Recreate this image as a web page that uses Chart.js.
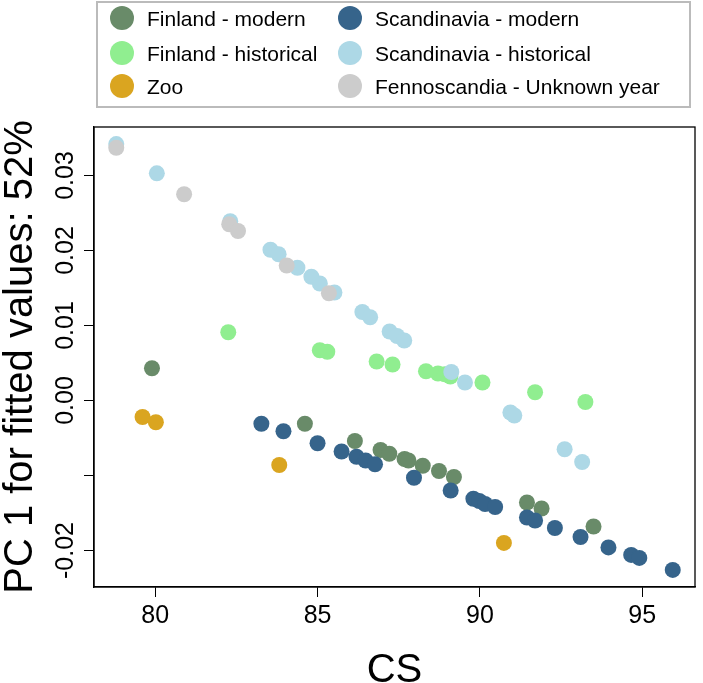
<!DOCTYPE html>
<html>
<head>
<meta charset="utf-8">
<script src="https://cdn.jsdelivr.net/npm/chart.js@4.4.1/dist/chart.umd.min.js"></script>
<style>
  body { margin: 0; background: #fff; }
  canvas { display: block; }
</style>
</head>
<body>
<canvas id="chart" width="703" height="683"></canvas>
<script>
// values
const finModernX = [79.9, 84.61, 86.15, 86.94, 87.21, 87.68, 87.8, 88.24, 88.74, 89.2, 91.45, 91.9, 93.5];
const finModernY = [0.0043, -0.0031, -0.0054, -0.0066, -0.0071, -0.0078, -0.0080, -0.0087, -0.0094, -0.0102, -0.0136, -0.0144, -0.0168];

const scaModernX = [83.27, 83.95, 85.0, 85.74, 86.2, 86.48, 86.77, 87.97, 89.1, 89.8, 89.98, 90.16, 90.47, 91.45, 91.7, 92.31, 93.1, 93.96, 94.66, 94.91, 95.94];
const scaModernY = [-0.0031, -0.0041, -0.0057, -0.0068, -0.0075, -0.0080, -0.0085, -0.0103, -0.0120, -0.0131, -0.0134, -0.0138, -0.0142, -0.0156, -0.0160, -0.0170, -0.0182, -0.0196, -0.0206, -0.0210, -0.0226];

const finHistX = [82.25, 85.07, 85.3, 86.82, 87.31, 88.34, 88.71, 88.92, 89.09, 90.08, 91.7, 93.25];
const finHistY = [0.0091, 0.0067, 0.0065, 0.0052, 0.0048, 0.0039, 0.0036, 0.0035, 0.0032, 0.0024, 0.0011, -0.0002];

const scaHistX = [78.8, 80.05, 82.31, 83.55, 83.8, 84.38, 84.81, 85.07, 85.52, 86.38, 86.62, 87.22, 87.45, 87.67, 89.12, 89.54, 90.94, 91.06, 92.61, 93.15];
const scaHistY = [0.0342, 0.0303, 0.0239, 0.0201, 0.0195, 0.0177, 0.0165, 0.0156, 0.0144, 0.0118, 0.0111, 0.0092, 0.0086, 0.0080, 0.0038, 0.0024, -0.0016, -0.0020, -0.0065, -0.0082];

const zooX = [79.61, 80.02, 83.82, 90.74];
const zooY = [-0.0022, -0.0029, -0.0086, -0.0190];

const unknownX = [78.8, 80.89, 82.28, 82.55, 84.05, 85.35];
const unknownY = [0.0337, 0.0275, 0.0235, 0.0226, 0.0180, 0.0143];

const xTicks = [80, 85, 90, 95];
const yTicks = [-0.02, -0.01, 0, 0.01, 0.02, 0.03];
const yTickLabels = ['-0.02', '', '0.00', '0.01', '0.02', '0.03'];

const xTitle = 'CS';
const yTitle = 'PC 1 for fitted values: 52%';

// legend order is column by column: left column first
const series = [
    { label: 'Finland - modern', xs: finModernX, ys: finModernY, color: '#698B69', order: 5 },
    { label: 'Finland - historical', xs: finHistX, ys: finHistY, color: '#90EE90', order: 3 },
    { label: 'Zoo', xs: zooX, ys: zooY, color: '#DAA520', order: 1 },
    { label: 'Scandinavia - modern', xs: scaModernX, ys: scaModernY, color: '#36648B', order: 4 },
    { label: 'Scandinavia - historical', xs: scaHistX, ys: scaHistY, color: '#ADD8E6', order: 2 },
    { label: 'Fennoscandia - Unknown year', xs: unknownX, ys: unknownY, color: '#CCCCCC', order: 0 }
];

const FONT = '"Liberation Sans", Arial, sans-serif';

// R style range: data range stretched by 4% on each side
function paddedRange(arrays) {
    const all = [].concat(...arrays);
    const lo = Math.min(...all), hi = Math.max(...all);
    const pad = (hi - lo) * 0.04;
    return [lo - pad, hi + pad];
}
const [xMin, xMax] = paddedRange(series.map(s => s.xs));
const [yMin, yMax] = paddedRange(series.map(s => s.ys));

const datasets = series.map(s => ({
    label: s.label,
    data: s.xs.map((x, i) => ({ x: x, y: s.ys[i] })),
    backgroundColor: s.color,
    borderWidth: 0,
    pointRadius: 8,
    pointHoverRadius: 8,
    order: s.order
}));

const decorations = {
    id: 'decorations',
    afterDraw(chart) {
        const ctx = chart.ctx;
        const area = chart.chartArea;
        const yScale = chart.scales.y;
        ctx.save();

        // box round the plot
        ctx.strokeStyle = '#000';
        ctx.lineWidth = 1.3;
        ctx.strokeRect(area.left, area.top, area.right - area.left, area.bottom - area.top);

        // y tick labels, turned like in R
        ctx.fillStyle = '#000';
        ctx.font = '25px ' + FONT;
        ctx.textAlign = 'center';
        ctx.textBaseline = 'alphabetic';
        yTicks.forEach((v, i) => {
            if (!yTickLabels[i]) return;
            ctx.save();
            ctx.translate(73, yScale.getPixelForValue(v));
            ctx.rotate(-Math.PI / 2);
            ctx.fillText(yTickLabels[i], 0, 0);
            ctx.restore();
        });

        // axis titles
        ctx.font = '40px ' + FONT;
        ctx.save();
        ctx.translate(32, (area.top + area.bottom) / 2);
        ctx.rotate(-Math.PI / 2);
        ctx.fillText(yTitle, 0, 0);
        ctx.restore();
        ctx.fillText(xTitle, (area.left + area.right) / 2, 682);

        // legend: 2 columns, 3 rows
        ctx.strokeStyle = '#bbbbbb';
        ctx.lineWidth = 2;
        ctx.strokeRect(97, 2, 593, 105);
        const rowY = [18, 53, 86];
        const colX = [122, 350];
        ctx.font = '21px ' + FONT;
        ctx.textAlign = 'left';
        series.forEach((s, i) => {
            const cx = colX[Math.floor(i / 3)];
            const cy = rowY[i % 3];
            ctx.beginPath();
            ctx.fillStyle = s.color;
            ctx.arc(cx, cy, 12, 0, Math.PI * 2);
            ctx.fill();
            ctx.fillStyle = '#000';
            ctx.fillText(s.label, cx + 25, cy + 7.5);
        });
        ctx.restore();
    }
};

new Chart(document.getElementById('chart'), {
    type: 'scatter',
    data: { datasets: datasets },
    options: {
        responsive: false,
        animation: false,
        events: [],
        layout: { padding: { top: 127, right: 1, left: 0, bottom: 0 } },
        plugins: {
            legend: { display: false },
            tooltip: { enabled: false }
        },
        scales: {
            x: {
                type: 'linear',
                min: xMin,
                max: xMax,
                afterBuildTicks: scale => { scale.ticks = xTicks.map(v => ({ value: v })); },
                afterFit: scale => { scale.height = 96; },
                grid: { drawOnChartArea: false, drawTicks: true, tickLength: 10, color: '#000' },
                border: { display: true, color: '#000', width: 1.3 },
                ticks: {
                    color: '#000',
                    font: { family: FONT, size: 25 },
                    padding: 4,
                    maxRotation: 0,
                    callback: v => String(v)
                }
            },
            y: {
                type: 'linear',
                min: yMin,
                max: yMax,
                afterBuildTicks: scale => { scale.ticks = yTicks.map(v => ({ value: v })); },
                afterFit: scale => { scale.width = 94; },
                grid: { drawOnChartArea: false, drawTicks: true, tickLength: 10, color: '#000' },
                border: { display: true, color: '#000', width: 1.3 },
                ticks: { display: false }
            }
        }
    },
    plugins: [decorations]
});
</script>
</body>
</html>
